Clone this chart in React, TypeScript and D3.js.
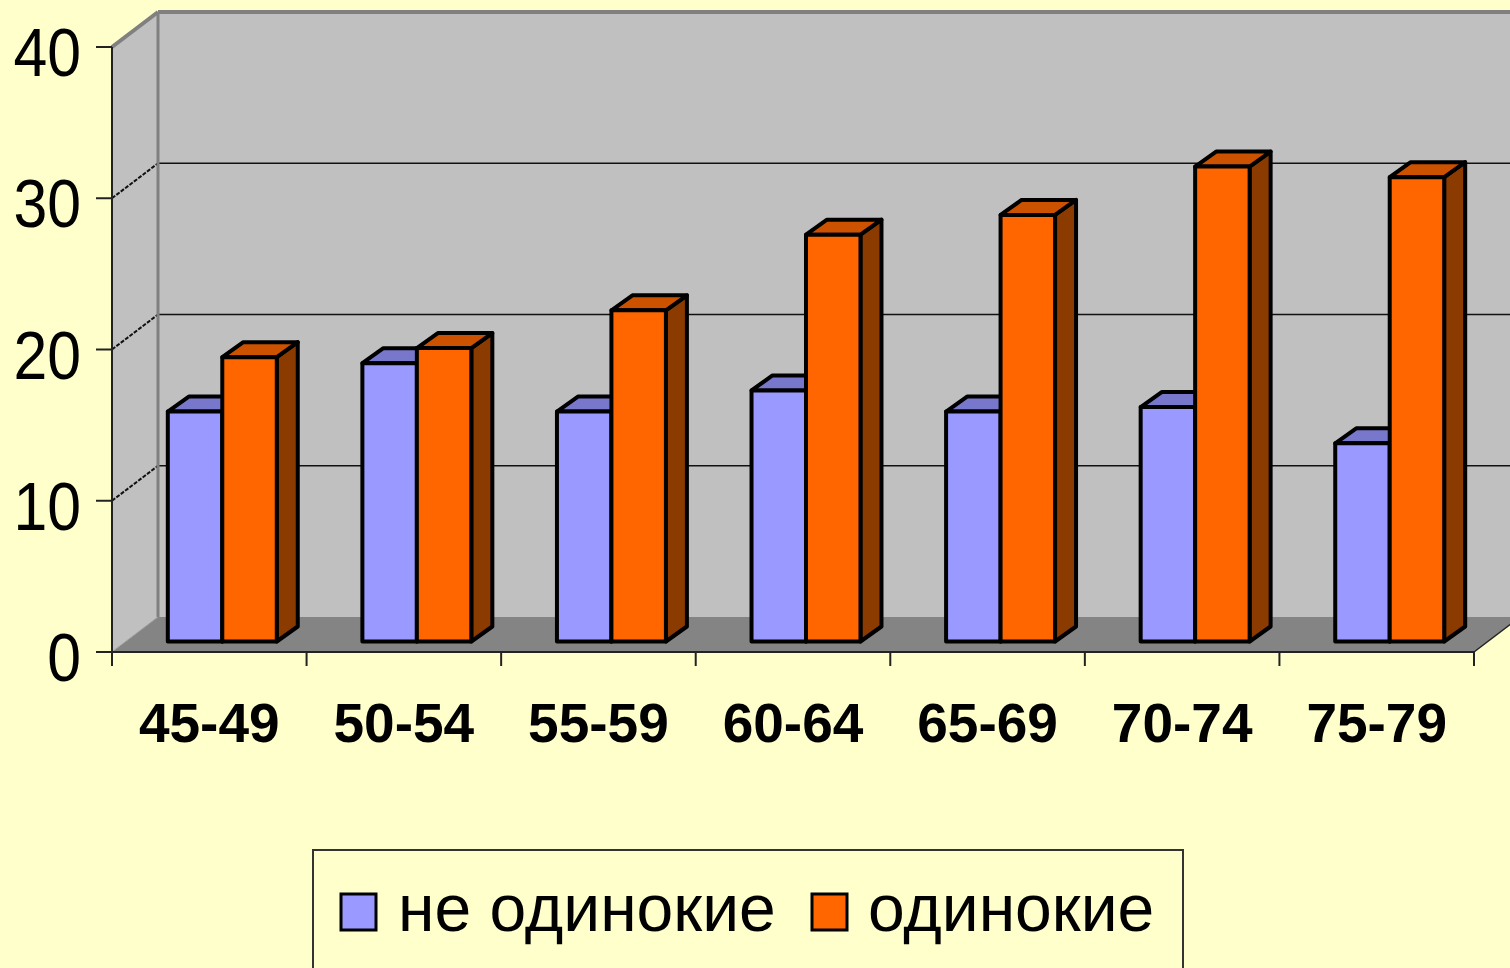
import React from 'react';
import * as d3 from 'd3';

const categories = ['45-49', '50-54', '55-59', '60-64', '65-69', '70-74', '75-79'];
const notLonely = [15.2, 18.4, 15.2, 16.6, 15.2, 15.5, 13.1];
const lonely = [18.8, 19.4, 21.9, 26.9, 28.2, 31.4, 30.7];
const seriesNames = ['не одинокие', 'одинокие'];
const yTicks = [0, 10, 20, 30, 40];

const W = 1510;
const H = 968;

// 3d look
const wallDx = 46, wallDy = -35;
const barDx = 21, barDy = -15;
const barShiftX = 13, barShiftY = -10.5;

const palette = [
  { front: '#9999ff', top: '#7777cc', side: '#555599' },
  { front: '#ff6600', top: '#cc5200', side: '#8b3a00' },
];

export default function App() {
  const x0 = d3.scaleBand<string>().domain(categories).range([112, 1474]).paddingInner(0);
  const groupW = x0.bandwidth() * 0.56;
  const x1 = d3.scaleBand<string>().domain(seriesNames).range([0, groupW]);
  const yFront = d3.scaleLinear().domain([0, 40]).range([652, 47]);
  const yBack = (v: number) => yFront(v) + wallDy;

  const left = 112, right = 1474;
  const backL = left + wallDx;
  const floorY = yFront(0);

  const pts = (arr: number[][]) => arr.map(p => p.join(',')).join(' ');

  const bars: JSX.Element[] = [];
  categories.forEach((c, i) => {
    [notLonely, lonely].forEach((vals, s) => {
      const x = (x0(c) as number) + (x0.bandwidth() - groupW) / 2 + barShiftX + (x1(seriesNames[s]) as number);
      const w = x1.bandwidth();
      const yB = yFront(0) + barShiftY;
      const yT = yFront(vals[i]) + barShiftY;
      const col = palette[s];
      bars.push(
        <g key={c + s} stroke="#000" strokeWidth={4} strokeLinejoin="round">
          <polygon points={pts([[x + w, yT], [x + w + barDx, yT + barDy], [x + w + barDx, yB + barDy], [x + w, yB]])} fill={col.side} />
          <polygon points={pts([[x, yT], [x + barDx, yT + barDy], [x + w + barDx, yT + barDy], [x + w, yT]])} fill={col.top} />
          <rect x={x} y={yT} width={w} height={yB - yT} fill={col.front} />
        </g>
      );
    });
  });

  return (
    <div style={{ position: 'absolute', left: 0, top: 0, width: W, height: H, background: '#ffffcc', overflow: 'hidden' }}>
      <svg width={W} height={H} style={{ display: 'block' }} fontFamily="'Liberation Sans', Arial, sans-serif">
        {/* side wall */}
        <polygon points={pts([[left, yFront(40)], [backL, yBack(40)], [backL, yBack(0)], [left, floorY]])} fill="#c0c0c0" />
        {/* back wall */}
        <rect x={backL} y={yBack(40)} width={W - backL + 20} height={yBack(0) - yBack(40)} fill="#c0c0c0" />
        {/* gridlines */}
        {yTicks.filter(v => v > 0 && v < 40).map(v => (
          <g key={'g' + v}>
            <line x1={backL} x2={W} y1={yBack(v)} y2={yBack(v)} stroke="#111" strokeWidth={1.5} />
            <line x1={left} x2={backL} y1={yFront(v)} y2={yBack(v)} stroke="#111" strokeWidth={2} strokeDasharray="4,1.5" />
          </g>
        ))}
        {/* floor */}
        <polygon points={pts([[left, floorY], [right, floorY], [right + wallDx, floorY + wallDy], [backL, floorY + wallDy]])} fill="#848484" />
        {/* wall edges */}
        <line x1={backL} x2={W} y1={yBack(40)} y2={yBack(40)} stroke="#808080" strokeWidth={4} />
        <line x1={left} x2={backL} y1={yFront(40)} y2={yBack(40)} stroke="#808080" strokeWidth={4} />
        <line x1={backL} x2={backL} y1={yBack(40)} y2={yBack(0)} stroke="#808080" strokeWidth={3} />
        <line x1={left} x2={backL} y1={floorY} y2={yBack(0)} stroke="#999" strokeWidth={1} />
        <line x1={right} x2={right + wallDx} y1={floorY} y2={floorY + wallDy} stroke="#222" strokeWidth={1.5} />

        {bars}

        {/* value axis */}
        <line x1={left} x2={left} y1={yFront(40)} y2={floorY + 14} stroke="#222" strokeWidth={2} />
        {yTicks.map(v => (
          <g key={'t' + v}>
            <line x1={96} x2={left} y1={yFront(v)} y2={yFront(v)} stroke="#222" strokeWidth={2} />
            <text transform={`translate(81,${yFront(v) + 29}) scale(0.88,1)`} textAnchor="end" fontSize={69} fill="#000">
              {v}
            </text>
          </g>
        ))}

        {/* category axis */}
        <line x1={left} x2={right} y1={floorY} y2={floorY} stroke="#222" strokeWidth={2} />
        {d3.range(categories.length + 1).map(i => {
          const tx = left + i * x0.bandwidth();
          return <line key={'ct' + i} x1={tx} x2={tx} y1={floorY} y2={floorY + 14} stroke="#222" strokeWidth={2} />;
        })}
        {categories.map(c => (
          <text key={'l' + c} x={(x0(c) as number) + x0.bandwidth() / 2} y={742} textAnchor="middle" fontSize={55} fontWeight="bold" fill="#000">
            {c}
          </text>
        ))}

        {/* legend */}
        <rect x={313} y={850} width={870} height={140} fill="none" stroke="#333" strokeWidth={2} />
        <rect x={341} y={894} width={35} height={36} fill={palette[0].front} stroke="#000" strokeWidth={3} />
        <text x={398} y={931} fontSize={66} fill="#000">{seriesNames[0]}</text>
        <rect x={812} y={894} width={35} height={36} fill={palette[1].front} stroke="#000" strokeWidth={3} />
        <text x={868} y={931} fontSize={66} fill="#000">{seriesNames[1]}</text>
      </svg>
    </div>
  );
}
